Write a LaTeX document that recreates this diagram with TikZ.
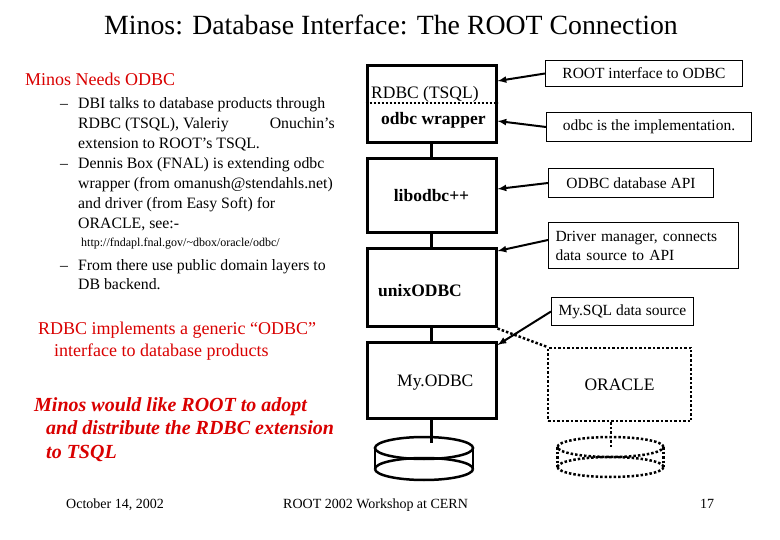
\documentclass[tikz,border=0pt]{standalone}
\usepackage{fontspec}
\setmainfont{Liberation Serif}
\begin{document}
\begin{tikzpicture}[x=1pt,y=-1pt,
  blk/.style={draw,line width=3pt},
  call/.style={draw,line width=1pt,anchor=north west,inner sep=0pt,align=left,font=\fontsize{15.5}{19}\selectfont},
  arr/.style={line width=2pt,-latex},
  txt/.style={anchor=base west,inner sep=0pt,font=\fontsize{15.8}{17}\selectfont},
  red/.style={text=red!85!black}]
\useasboundingbox (0,0) rectangle (780,540);
\node[anchor=base,inner sep=0pt,font=\fontsize{27.8}{30}\selectfont] (title) at (391,35) {Minos: Database Interface: The ROOT Connection};
% left text
\node[txt,red,font=\fontsize{18}{20}\selectfont] (h1) at (25,86) {Minos Needs ODBC};
\foreach \y/\t [count=\i] in {109/{DBI talks to database products through},129/{RDBC (TSQL), Valeriy\hspace{2.6em}Onuchin's},149/{extension to ROOT's TSQL.},169/{Dennis Box (FNAL) is extending odbc},189/{wrapper (from omanush@stendahls.net)},209/{and driver (from Easy Soft) for},229/{ORACLE, see:-},271/{From there use public domain layers to},290/{DB backend.}}
  \node[txt] (l\i) at (78,\y) {\t};
\node[txt] (d1) at (60,109) {--};
\node[txt] (d2) at (60,169) {--};
\node[txt] (d3) at (60,271) {--};
\node[txt,font=\fontsize{12}{13}\selectfont] (url) at (81,247) {http://fndapl.fnal.gov/\textasciitilde dbox/oracle/odbc/};
\node[txt,red,font=\fontsize{18}{20}\selectfont] (r1) at (38,335) {RDBC implements a generic ``ODBC''};
\node[txt,red,font=\fontsize{18}{20}\selectfont] (r2) at (54,356) {interface to database products};
\node[txt,red,font=\fontsize{20}{22}\selectfont\bfseries\itshape] (m1) at (34,411) {Minos would like ROOT to adopt};
\node[txt,red,font=\fontsize{20}{22}\selectfont\bfseries\itshape] (m2) at (46,435) {and distribute the RDBC extension};
\node[txt,red,font=\fontsize{20}{22}\selectfont\bfseries\itshape] (m3) at (46,458) {to TSQL};
% footer
\node[txt,font=\fontsize{14}{15}\selectfont] (f1) at (66,508) {October 14, 2002};
\node[txt,font=\fontsize{14}{15}\selectfont] (f2) at (283,508) {ROOT 2002 Workshop at CERN};
\node[txt,font=\fontsize{14}{15}\selectfont] (f3) at (700,508) {17};
% stack
\node[blk,minimum width=129pt,minimum height=77pt,inner sep=0pt] (b1) at (431.5,104.5) {};
\draw[line width=2pt,dotted] (b1.west |- 0,103) -- (b1.east |- 0,103);
\node[txt,font=\fontsize{17.5}{19}\selectfont] (b1a) at (371,99) {RDBC (TSQL)};
\node[txt,font=\fontsize{17.5}{19}\selectfont\bfseries] (b1b) at (381,125) {odbc wrapper};
\node[blk,minimum width=129pt,minimum height=74pt,inner sep=0pt,font=\fontsize{17.5}{19}\selectfont\bfseries] (b2) at (431.5,196) {libodbc++};
\node[blk,minimum width=129pt,minimum height=78pt,inner sep=0pt] (b3) at (431.5,288) {};
\node[txt,font=\fontsize{17.5}{19}\selectfont\bfseries] (b3t) at (378,297) {unixODBC};
\node[blk,minimum width=129pt,minimum height=75pt,inner sep=0pt] (b4) at (431.5,380.5) {};
\node[txt,font=\fontsize{17.5}{19}\selectfont] (b4t) at (397,386) {My.ODBC};
\draw[line width=3pt] (b1.south) -- (b2.north) (b2.south) -- (b3.north) (b3.south) -- (b4.north);
% cylinder
\coordinate (cy) at (b4.south |- 0,443);
\draw[line width=3pt] (b4.south) -- (cy);
\draw[line width=2.5pt] (424,448) ellipse (49pt and 11pt);
\draw[line width=2.5pt] (375,448) -- (375,469) (473,448) -- (473,469);
\draw[line width=2.5pt] (375,469) arc[start angle=180,end angle=360,x radius=49pt,y radius=11pt];
\draw[line width=2.5pt] (375,469) arc[start angle=180,end angle=0,x radius=49pt,y radius=11pt];
% oracle
\node[draw,line width=2.5pt,dotted,minimum width=143pt,minimum height=73pt,inner sep=0pt,font=\fontsize{17.5}{19}\selectfont] (ora) at (619.5,384.5) {ORACLE};
\coordinate (oc) at (611,447);
\draw[line width=2.5pt,dotted] (b3.south east) -- (ora.north west);
\draw[line width=2.5pt,dotted] (oc |- ora.south) -- (oc);
\draw[line width=2.5pt,dotted] (610.5,447) ellipse (53pt and 10pt);
\draw[line width=2.5pt,dotted] (557.5,447) -- (557.5,467) (663.5,447) -- (663.5,467);
\draw[line width=2.5pt,dotted] (557.5,467) arc[start angle=180,end angle=360,x radius=53pt,y radius=10pt];
\draw[line width=2.5pt,dotted] (557.5,467) arc[start angle=180,end angle=0,x radius=53pt,y radius=10pt];
% callouts
\node[call,minimum width=197pt,minimum height=26pt,inner xsep=9pt] (c1) at (545,60) {ROOT interface to ODBC};
\node[call,minimum width=205pt,minimum height=29pt,inner xsep=8pt] (c2) at (546,112) {odbc is the implementation.};
\node[call,minimum width=165pt,minimum height=29pt,inner xsep=8pt] (c3) at (548,168) {ODBC database API};
\node[call,minimum width=190pt,minimum height=46pt,inner xsep=7pt,text width=176pt] (c4) at (548,222) {Driver manager, connects\\data source to API};
\node[call,minimum width=141pt,minimum height=28pt,inner xsep=7pt] (c5) at (551,297) {My.SQL data source};
\draw[arr] (c1.west) -- (b1.east |- 0,81);
\draw[arr] (c2.west) -- (b1.east |- 0,121);
\draw[arr] (c3.west) -- (b2.east |- 0,189);
\draw[arr] (c4.west |- 0,240) -- (b3.east |- 0,251);
\draw[arr] (c5.west) -- (b4.east |- 0,345);
\end{tikzpicture}
\end{document}
